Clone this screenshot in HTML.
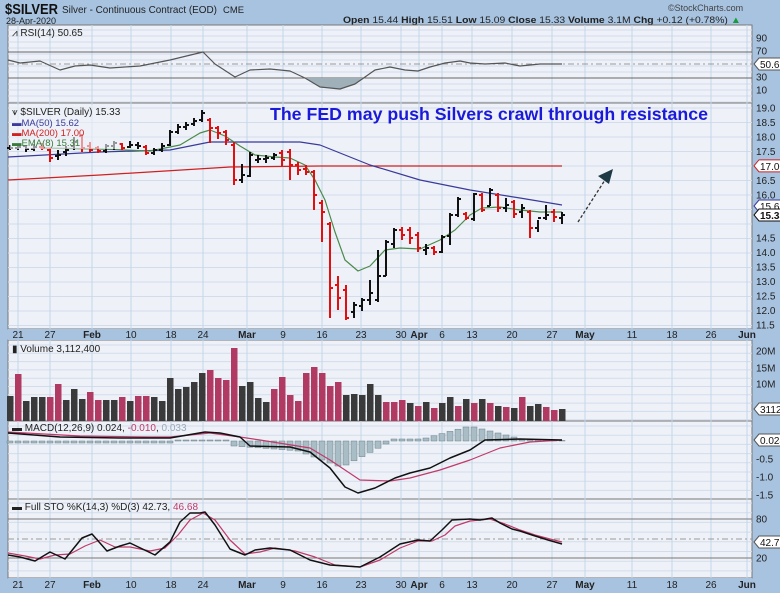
<!DOCTYPE html>
<html><head><meta charset="utf-8">
<style>
html,body{margin:0;padding:0;background:#a7c3e0;}
svg{display:block;font-family:"Liberation Sans",sans-serif;}
</style></head>
<body>
<svg id="s" width="780" height="593" viewBox="0 0 780 593" xmlns="http://www.w3.org/2000/svg">
<rect width="780" height="593" fill="#a7c3e0"/>
<text x="5" y="14" font-size="15" font-weight="bold" fill="#111" textLength="53" lengthAdjust="spacingAndGlyphs">$SILVER</text>
<text x="62" y="13" font-size="10.5" fill="#222" textLength="155" lengthAdjust="spacingAndGlyphs">Silver - Continuous Contract (EOD)</text>
<text x="223" y="13" font-size="9" fill="#222" textLength="21" lengthAdjust="spacingAndGlyphs">CME</text>
<text x="6" y="24" font-size="9" fill="#222">28-Apr-2020</text>
<text x="668" y="11" font-size="9" fill="#444">©StockCharts.com</text>
<text x="343" y="23" font-size="9.5" fill="#222" textLength="398" lengthAdjust="spacingAndGlyphs"><tspan font-weight="bold">Open</tspan> 15.44 <tspan font-weight="bold">High</tspan> 15.51 <tspan font-weight="bold">Low</tspan> 15.09 <tspan font-weight="bold">Close</tspan> 15.33 <tspan font-weight="bold">Volume</tspan> 3.1M <tspan font-weight="bold">Chg</tspan> +0.12 (+0.78%) <tspan fill="#1a9a3a">▲</tspan></text>
<g id="g"></g>
</svg>
<script>
var g=document.getElementById('g'),h='';
function X(i){return 18+8*i;}
var L=8,R=752;
var panels=[[25,103],[103,329],[340,421],[421,499],[499,578]];
panels.forEach(function(p){h+='<rect x="'+L+'" y="'+p[0]+'" width="'+(R-L)+'" height="'+(p[1]-p[0])+'" fill="#eef2f8" stroke="#777" stroke-width="1"/>';});
[[329,340],[578,590]].forEach(function(d){h+='<rect x="'+L+'" y="'+d[0]+'" width="'+(R-L)+'" height="'+(d[1]-d[0])+'" fill="#a7c3e0"/>';});
var dates=[[18,'21'],[50,'27'],[92,'Feb',1],[131,'10'],[171,'18'],[203,'24'],[247,'Mar',1],[283,'9'],[322,'16'],[361,'23'],[401,'30'],[419,'Apr',1],[442,'6'],[472,'13'],[512,'20'],[552,'27'],[585,'May',1],[632,'11'],[672,'18'],[711,'26'],[747,'Jun',1]];
function hgrid(a,b,step){for(var y=a;y<b;y+=step)h+='<line x1="'+L+'" x2="'+R+'" y1="'+y+'" y2="'+y+'" stroke="#d3dceb" stroke-width="1"/>';}
hgrid(30,103,6);hgrid(108,329,14.5);hgrid(345,421,8.3);hgrid(426,499,9.2);hgrid(503,578,9.7);
dates.forEach(function(d){panels.forEach(function(p){h+='<line x1="'+d[0]+'" x2="'+d[0]+'" y1="'+p[0]+'" y2="'+p[1]+'" stroke="#c4d6ea" stroke-width="1"/>';});
 [338,588].forEach(function(y){h+='<text x="'+d[0]+'" y="'+y+'" font-size="10" text-anchor="middle" fill="#222"'+(d[2]?' font-weight="bold"':'')+'>'+d[1]+'</text>';});});
function hl(y,c,dash){h+='<line x1="'+L+'" x2="'+R+'" y1="'+y+'" y2="'+y+'" stroke="'+c+'" stroke-width="1"'+(dash?' stroke-dasharray="6,3,2,3"':'')+'/>';}
function lab(x,y,t,extra){h+='<text x="'+x+'" y="'+(y+3.5)+'" font-size="10" fill="#222" '+(extra||'')+'>'+t+'</text>';}
function tag(y,t,c,b){h+='<path d="M754 '+y+' l5 -6 h22 v12 h-22z" fill="#fff" stroke="'+c+'" stroke-width="1"/>';h+='<text x="760" y="'+(y+4)+'" font-size="10" fill="#111"'+(b?' font-weight="bold"':'')+'>'+t+'</text>';}
function pl(pts,c,w){h+='<polyline fill="none" stroke="'+c+'" stroke-width="'+(w||1)+'" stroke-linejoin="round" points="'+pts.map(function(p){return p.join(',');}).join(' ')+'"/>';}
// RSI
hl(52,'#666');hl(78,'#666');hl(64,'#999',1);
[[38,'90'],[51,'70'],[77,'30'],[90,'10']].forEach(function(a){lab(756,a[0],a[1]);});tag(64,'50.65','#555');
h+='<path d="M305 78 L320 87 L340 89 L355 84 L365 78Z" fill="#9fb0b8"/>';
pl([[8,60],[20,63],[40,61],[60,70],[75,66],[90,65],[110,68],[140,66],[170,60],[203,52],[215,64],[235,77],[250,70],[270,69],[290,71],[305,78],[320,87],[340,89],[355,84],[375,70],[390,67],[405,70],[418,71],[430,67],[445,63],[460,61],[470,63],[485,64],[505,63],[520,66],[540,64],[562,64]],'#555',1.2);
h+='<text x="12" y="36" font-size="10" fill="#222">⩘ RSI(14) 50.65</text>';
function py(p){return 108+(19-p)*28.93;}
for(var p=19;p>=11.5;p-=0.5){ if(p==17||p==15.5||p==15)continue; lab(756,py(p),p.toFixed(1));}
pl([[8,180],[100,175],[230,167],[320,166],[400,166],[562,166]],'#d02020',1.2);
pl([[8,157],[100,152],[170,150],[210,142],[300,142],[320,145],[345,155],[370,165],[420,180],[470,190],[520,198],[562,205]],'#3a3a9a',1.2);
pl([[40,148],[100,149],[150,151],[180,145],[200,133],[210,130],[225,136],[240,146],[255,155],[275,157],[290,158],[305,165],[315,180],[325,200],[335,232],[345,260],[358,271],[370,266],[385,250],[400,248],[420,249],[440,240],[455,230],[470,215],[482,208],[500,207],[520,210],[540,212],[562,212]],'#4a8a4a',1.2);
var B={'-1':[145,150,148,148,0],0:[144,150,148,147,0],1:[145,152,146,149,0],2:[144,151,149,147,0],3:[143,150,147,148,1],
4:[148,162,150,158,1],5:[150,160,156,155,0],6:[146,156,152,150,0],7:[137,150,146,142,0],8:[134,152,136,148,1],
9:[142,152,146,150,1],10:[146,153,148,151,1],11:[144,153,151,146,0],12:[141,150,146,143,0],13:[143,150,144,148,1],
14:[141,148,147,145,0],15:[142,149,145,146,0],16:[145,155,147,153,1],17:[148,155,153,150,0],18:[143,152,150,146,0],
19:[130,146,145,132,0],20:[124,134,132,127,0],21:[122,130,127,125,0],22:[118,126,124,121,0],23:[110,122,120,113,0],
24:[118,143,120,128,1],25:[126,139,128,133,1],26:[130,145,132,140,1],27:[142,185,145,180,1],28:[164,183,180,175,0],
29:[152,177,176,155,0],30:[155,163,160,159,0],31:[155,163,159,158,0],32:[153,160,158,155,0],33:[150,166,153,160,1],
34:[149,180,152,165,1],35:[162,175,165,170,1],36:[165,175,169,172,1],37:[170,210,172,195,1],38:[200,242,203,212,1],
39:[222,318,224,288,1],40:[276,310,285,298,1],41:[285,320,290,318,1],42:[302,318,312,305,0],43:[298,311,306,300,0],
44:[280,305,300,293,0],45:[250,302,300,276,0],46:[240,276,276,242,0],47:[228,248,244,230,0],48:[227,240,230,235,1],
49:[227,244,230,238,1],50:[232,252,235,248,1],51:[244,255,250,248,0],52:[246,255,248,252,1],53:[235,253,252,237,0],
54:[213,245,236,215,0],55:[197,217,215,199,0],56:[212,220,214,218,1],57:[193,221,219,194,0],58:[193,212,195,210,1],
59:[188,206,206,190,0],60:[193,212,195,208,1],61:[198,212,208,205,0],62:[200,218,202,214,1],63:[204,218,212,208,0],
64:[210,238,212,228,1],65:[220,232,228,218,0],66:[205,220,218,215,0],67:[209,222,212,217,1],68:[212,224,218,215,0]};
for(var k in B){var b=B[k],i=+k,x=i<0?10:X(i),c=b[4]?'#e01010':'#111';
 h+='<line x1="'+x+'" x2="'+x+'" y1="'+b[0]+'" y2="'+b[1]+'" stroke="'+c+'" stroke-width="2"/>';
 h+='<line x1="'+(x-3)+'" x2="'+x+'" y1="'+b[2]+'" y2="'+b[2]+'" stroke="'+c+'" stroke-width="2"/>';
 h+='<line x1="'+x+'" x2="'+(x+3)+'" y1="'+b[3]+'" y2="'+b[3]+'" stroke="'+c+'" stroke-width="2"/>';}
tag(py(17),'17.00','#d02020');tag(206,'15.62','#3a3a9a');tag(215,'15.33','#111',1);
h+='<rect x="10" y="105" width="110" height="44" fill="#eef2f8" opacity="0.6"/>';
h+='<text x="12" y="115" font-size="10" fill="#222">⩛ $SILVER (Daily) 15.33</text>';
h+='<text x="12" y="126" font-size="9.5" fill="#3a3a9a">▬MA(50) 15.62</text>';
h+='<text x="12" y="136" font-size="9.5" fill="#d02020">▬MA(200) 17.00</text>';
h+='<text x="12" y="146" font-size="9.5" fill="#3a7a3a">▬EMA(8) 15.31</text>';
h+='<text x="270" y="120" font-size="17.5" font-weight="bold" fill="#1a1ad8" textLength="438" lengthAdjust="spacingAndGlyphs">The FED may push Silvers crawl through resistance</text>';
h+='<line x1="578" y1="222" x2="605" y2="180" stroke="#333" stroke-width="1.3" stroke-dasharray="3,2"/>';
h+='<path d="M613 169 L598 176 L609 184Z" fill="#1e3a44"/>';
var V1=[396,374,401,397,397,397,384,400,389,399,392,400,400,400,397,401,396,396,397,401,378,389,387,382,373,370,378,380,348,386,382,398,402,389,377,395,401,373,367,373,386,382,395,394,395,384,395,402];
var C1=[0,1,0,0,0,1,1,0,0,0,1,1,0,0,1,0,1,1,0,0,0,0,0,0,0,1,1,1,1,0,0,0,0,1,1,1,1,1,1,1,1,1,0,0,0,0,0,1];
var V2=[402,400,403,406,402,408,403,397,406,399,403,399,403,406,407,408,397,406,404,407,410,409];
var C2=[1,1,0,1,0,1,0,0,1,0,1,0,1,0,1,0,1,0,0,1,1,0];
var V=V1.concat(V2),C=C1.concat(C2);
V.forEach(function(t,j){var x=10+8*j;h+='<rect x="'+(x-3)+'" y="'+t+'" width="6.5" height="'+(421-t)+'" fill="'+(C[j]?'#b03a62':'#3a3a3a')+'"/>';});
[[351,'20M'],[368,'15M'],[384,'10M']].forEach(function(a){lab(756,a[0],a[1]);});tag(409,'3112400','#555');
h+='<text x="12" y="352" font-size="10" fill="#222">▮ Volume 3,112,400</text>';
var z=441;
for(var j=0;j<70;j++){var x=10+8*j,v;
 if(j<21)v=-2;else if(j<28)v=1;else if(j<36)v=-5-(j-28)*0.6;else if(j<42)v=-10-(j-36)*3;else if(j<48)v=-24+(j-42)*4.2;else if(j<52)v=2;else if(j<58)v=3+(j-52)*2.2;else if(j<64)v=14-(j-58)*2;else v=2-(j-64)*0.3;
 var y=v<0?z:z-v,hh=Math.abs(v);h+='<rect x="'+(x-3)+'" y="'+y+'" width="6" height="'+hh+'" fill="#a9bdc6" stroke="#6a7f88" stroke-width="0.5"/>';}
pl([[8,432],[80,436],[150,437],[170,437],[210,433],[240,437],[260,440],[310,448],[330,460],[345,470],[360,480],[390,481],[410,478],[440,470],[470,460],[500,448],[530,442],[562,440]],'#c03a6a',1.2);
pl([[8,433],[60,437],[120,438],[170,438],[205,432],[220,433],[240,437],[250,446],[290,447],[310,452],[330,468],[345,487],[358,493],[375,488],[395,478],[410,473],[430,468],[450,458],[470,450],[485,440],[520,439],[562,440]],'#111',1.5);
[[459,'-0.5'],[477,'-1.0'],[495,'-1.5']].forEach(function(a){lab(756,a[0],a[1]);});tag(440,'0.024','#555');
h+='<text x="12" y="431" font-size="10" fill="#222">▬ MACD(12,26,9) 0.024, <tspan fill="#c03a6a">-0.010</tspan>, <tspan fill="#9ab">0.033</tspan></text>';
hl(519,'#777');hl(558,'#777');hl(539,'#999',1);
lab(756,519,'80');lab(756,558,'20');tag(542,'42.73','#555');
pl([[8,553],[25,556],[40,559],[55,555],[70,554],[85,546],[100,540],[115,547],[130,547],[150,551],[165,548],[178,535],[190,520],[203,513],[215,520],[230,540],[245,554],[260,552],[275,548],[295,551],[315,557],[335,565],[360,567],[380,560],[400,548],[418,541],[432,541],[445,535],[455,526],[470,521],[490,519],[505,524],[520,530],[535,535],[550,539],[562,542]],'#c03a6a',1.2);
pl([[8,555],[20,557],[35,561],[50,552],[65,559],[82,538],[92,534],[107,551],[120,546],[130,543],[155,555],[170,542],[180,522],[190,513],[200,513],[205,512],[215,525],[230,549],[245,555],[255,550],[270,548],[290,550],[310,560],[330,565],[360,567],[380,557],[400,544],[418,540],[430,541],[442,530],[452,520],[470,519],[480,520],[492,518],[500,523],[512,529],[520,531],[532,535],[548,540],[562,544]],'#111',1.5);
h+='<text x="12" y="510" font-size="10" fill="#222">▬ Full STO %K(14,3) %D(3) 42.73, <tspan fill="#c03a6a">46.68</tspan></text>';
g.innerHTML=h;
</script>
</body></html>
